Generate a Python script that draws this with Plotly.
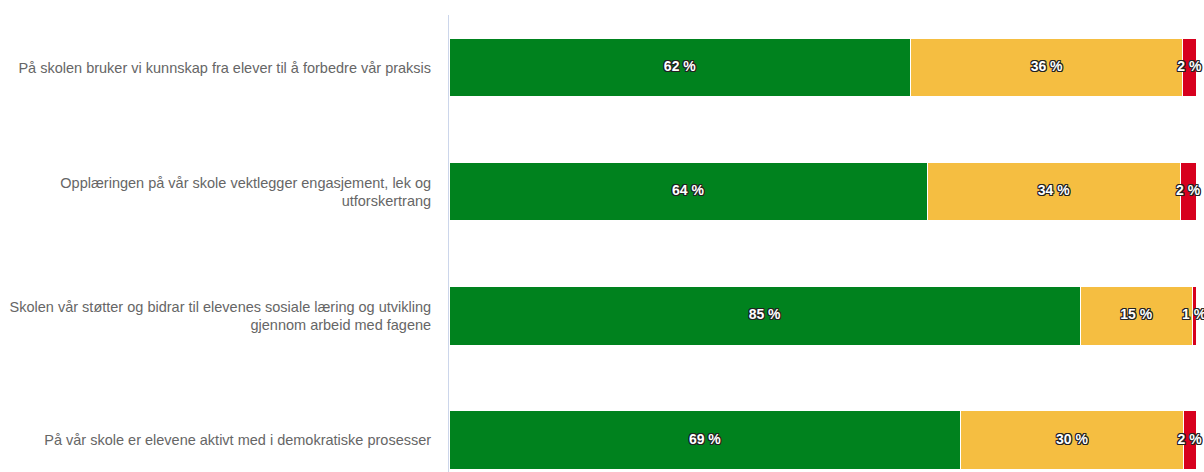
import math
import plotly.graph_objects as go

categories = [
    "På skolen bruker vi kunnskap fra elever til å forbedre vår praksis",
    "Opplæringen på vår skole vektlegger engasjement, lek og<br>utforskertrang",
    "Skolen vår støtter og bidrar til elevenes sosiale læring og utvikling<br>gjennom arbeid med fagene",
    "På vår skole er elevene aktivt med i demokratiske prosesser",
]
series_names = ["Enig", "Delvis enig", "Uenig"]
green_vals = [61.8, 64.0, 84.5, 68.5]
yellow_vals = [36.4, 33.9, 15.0, 29.8]
red_vals = [1.8, 2.1, 0.5, 1.7]
colors = ["#00821e", "#f5be41", "#d7001e"]

series = [green_vals, yellow_vals, red_vals]


def fmt(v):
    return f"{int(math.floor(v + 0.5))} %"


fig = go.Figure()
for name, vals, col in zip(series_names, series, colors):
    fig.add_trace(go.Bar(
        y=categories, x=vals, name=name, orientation="h",
        marker=dict(color=col, line=dict(color="#ffffff", width=1)),
        hoverinfo="skip",
    ))

# data labels at segment centres
shadow = ("-1px -1px 0 #222, 1px -1px 0 #222, -1px 1px 0 #222, 1px 1px 0 #222, "
          "0 1px 0 #222, 0 -1px 0 #222, 1px 0 0 #222, -1px 0 0 #222")
cum = [0.0] * len(categories)
for vals in series:
    centres = [c + v / 2 for c, v in zip(cum, vals)]
    fig.add_trace(go.Scatter(
        y=categories, x=centres, mode="text",
        text=[fmt(v) for v in vals],
        textposition="middle center",
        textfont=dict(family="Liberation Sans, Arial, sans-serif", size=14,
                      color="#ffffff", weight="bold", shadow=shadow),
        hoverinfo="skip", showlegend=False, cliponaxis=False,
    ))
    cum = [c + v for c, v in zip(cum, vals)]

fig.update_layout(
    barmode="stack",
    bargap=0.532,
    width=1204, height=472,
    margin=dict(l=449, r=8, t=15, b=0, autoexpand=False),
    paper_bgcolor="#ffffff", plot_bgcolor="#ffffff",
    showlegend=False,
    font=dict(family="Liberation Sans, Arial, sans-serif", size=14.5, color="#666666"),
)
fig.update_xaxes(range=[0, 100], visible=False, showgrid=False, zeroline=False, fixedrange=True)
fig.update_yaxes(
    type="category", range=[3.258, -0.427],
    showline=True, linecolor="#ccd6eb", linewidth=1,
    showgrid=False, zeroline=False, ticks="", ticklabelstandoff=14,
    tickfont=dict(size=14.5, color="#666666"),
)

fig.write_html("out.html", config={"displayModeBar": False},
               post_script="document.body.style.margin='0';document.body.style.overflow='hidden';")
